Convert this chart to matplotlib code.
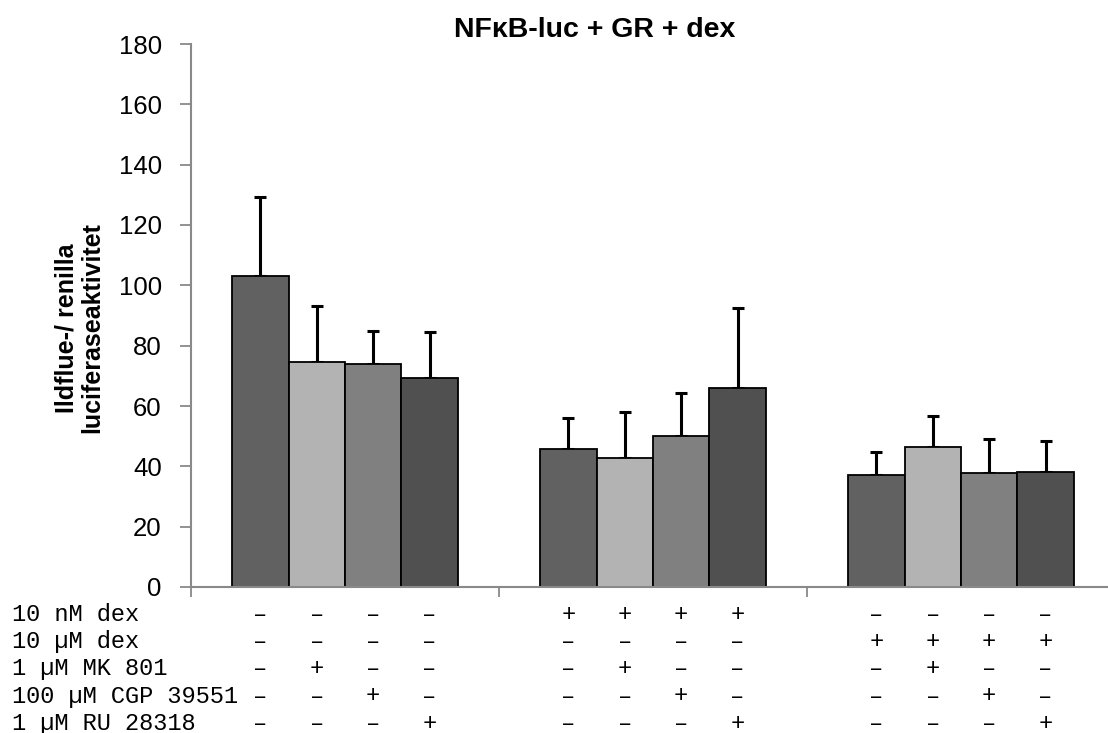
import numpy as np
import matplotlib.pyplot as plt
from matplotlib.transforms import blended_transform_factory

"""data"""

groups = ['group 1', 'group 2', 'group 3']
series_colors = ['#616161', '#b3b3b3', '#808080', '#505050']

values = [[103.1, 74.5, 74.0, 69.3],
          [45.7, 42.9, 50.0, 65.9],
          [37.1, 46.3, 37.7, 38.1]]
errors = [[26.2, 18.7, 11.0, 15.2],
          [10.3, 15.0, 14.2, 26.7],
          [7.6, 10.5, 11.3, 10.4]]

row_labels = ['10 nM dex', '10 µM dex', '1 µM MK 801', '100 µM CGP 39551', '1 µM RU 28318']
row_signs = ['––––++++––––',
             '––––––––++++',
             '–+––' * 3,
             '––+–' * 3,
             '–––+' * 3]

yticks = np.arange(0, 181, 20)

"""plot"""

W, H = 1108, 733
fig = plt.figure(figsize=(W / 100, H / 100), dpi=100)
ax = fig.add_axes([191 / W, (H - 587) / H, (1115 - 191) / W, (587 - 44) / H])

width = 0.183
x = np.arange(len(groups))
centers = []
for i in range(4):
    xi = x + (i - 1.5) * width
    v = [row[i] for row in values]
    e = [row[i] for row in errors]
    ax.bar(xi, v, width=width, color=series_colors[i], edgecolor='black', linewidth=1.3, zorder=3)
    ax.errorbar(xi, v, yerr=[np.zeros(len(e)), e], fmt='none', ecolor='black',
                elinewidth=2.2, capsize=4.3, capthick=2.2, zorder=2)
    centers.append(xi)
centers = np.array(centers).T.ravel()  # order: group then series

"""detail"""

gray = '#898989'
ax.set_xlim(-0.5, 2.5)
ax.set_ylim(0, 180)
ax.set_yticks(yticks)
ax.set_yticklabels([str(t) for t in yticks], fontsize=18.5, family='Liberation Sans')
ax.set_xticks([-0.5, 0.5, 1.5, 2.5])
ax.set_xticklabels([])
ax.tick_params(axis='both', color=gray, width=1.3, length=8, direction='out', pad=13)
ax.tick_params(axis='x', length=7)
for s in ['top', 'right']:
    ax.spines[s].set_visible(False)
for s in ['left', 'bottom']:
    ax.spines[s].set_color(gray)
    ax.spines[s].set_linewidth(1.5)
    ax.spines[s].set_zorder(4)

fig.text(595 / W, 1 - 37 / H, 'NFκB-luc + GR + dex', ha='center', va='baseline',
         fontsize=20.5, fontweight='bold', family='Liberation Sans')
fig.text(79 / W, 1 - 328 / H, 'Ildflue-/ renilla\nluciferaseaktivitet', rotation=90,
         ha='center', va='center', multialignment='center', fontsize=18,
         fontweight='bold', family='Liberation Sans', linespacing=1.1)

# treatment table below the axis
trans = blended_transform_factory(ax.transData, fig.transFigure)
for r, (label, signs) in enumerate(zip(row_labels, row_signs)):
    yy = 1 - (614.7 + 27.1 * r) / H
    fig.text(12 / W, yy, label, ha='left', va='center', fontsize=17, family='Liberation Mono')
    for xc, sg in zip(centers, signs):
        ax.text(xc, yy, sg, transform=trans, ha='center', va='center',
                fontsize=17, family='Liberation Mono', clip_on=False)

plt.savefig('out.png', dpi=100)
